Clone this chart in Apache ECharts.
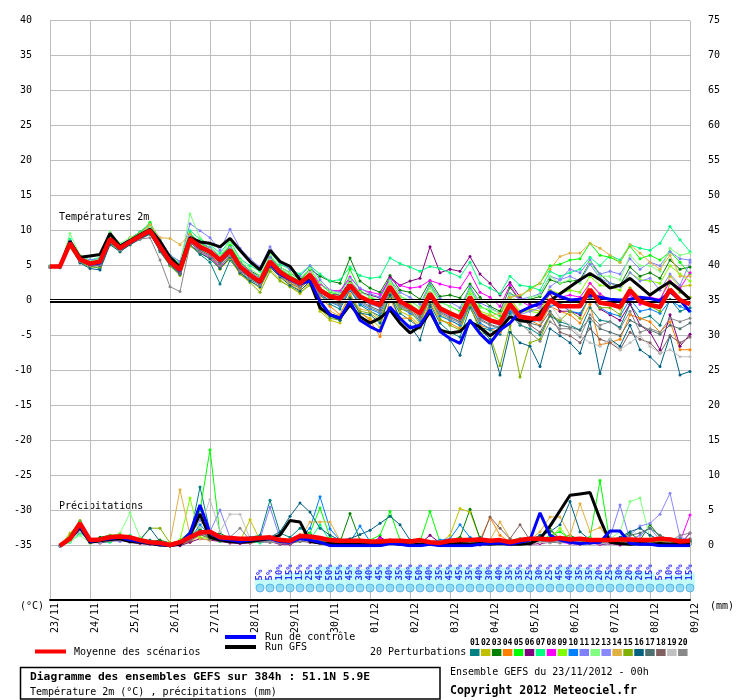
<!DOCTYPE html>
<html>
<head>
<meta charset="utf-8">
<script src="https://cdn.jsdelivr.net/npm/echarts/dist/echarts.min.js"></script>
<style>
  html, body { margin: 0; padding: 0; background: #fff; }
  #main { width: 740px; height: 700px; }
</style>
</head>
<body>
<div id="main"></div>
<script>
// jours de l'échéance (pas de 6h)
var days = ['23/11', '24/11', '25/11', '26/11', '27/11', '28/11', '29/11', '30/11', '01/12',
  '02/12', '03/12', '04/12', '05/12', '06/12', '07/12', '08/12', '09/12'];
var hours = ['00h', '06h', '12h', '18h'];

// températures 2m : moyenne, contrôle, GFS
var tMean = [4.9, 4.9, 8.2, 5.9, 5.3, 5.6, 8.8, 7.5, 8.4, 9.2, 10.0, 7.7, 5.6, 4.4, 8.8, 7.7,
  7.0, 5.8, 7.2, 4.9, 3.7, 2.7, 5.6, 4.1, 3.2, 2.5, 3.7, 1.5, 0.6, 0.3, 2.2, 0.6,
  -0.1, -0.6, 2.0, -0.1, -0.9, -1.8, 1.0, -1.1, -1.8, -2.4, 0.5, -2.0, -2.8, -3.2, -0.5, -2.3,
  -2.5, -2.6, 0.1, -0.8, -0.8, -0.8, 1.6, -0.3, -0.5, -0.9, 1.5, -0.1, -0.6, -0.9, 1.6, 0.1, -0.5];
var tCtrl = [4.9, 4.9, 8.3, 5.9, 5.2, 5.4, 8.7, 7.4, 8.3, 9.1, 9.9, 7.6, 5.5, 4.3, 8.8, 7.6,
  7.0, 5.9, 7.3, 4.8, 3.6, 2.6, 5.3, 3.8, 3.0, 2.4, 2.8, -0.1, -2.0, -2.5, -0.1, -2.8,
  -3.7, -4.4, -0.9, -2.5, -3.9, -3.5, -1.3, -4.4, -5.4, -6.1, -2.8, -4.7, -6.1, -4.2, -3.2, -1.6,
  -0.9, -0.4, 1.3, 0.6, 0.1, 0.2, 0.8, 0.5, 0.2, 0.1, 0.2, 0.5, 0.3, 0.0, 1.3, 0.1, -1.6];
var tGfs = [4.9, 4.9, 8.5, 6.2, 6.4, 6.6, 9.6, 7.8, 8.6, 9.4, 10.2, 8.5, 6.2, 4.8, 9.0, 8.4,
  8.2, 7.7, 8.9, 7.2, 5.6, 4.4, 7.2, 5.6, 4.9, 3.0, 2.8, -1.0, -2.0, -2.5, -0.6, -2.3,
  -3.2, -2.5, -1.3, -3.2, -4.6, -3.7, -1.6, -4.2, -4.6, -4.4, -3.0, -3.8, -5.0, -4.0, -2.3, -2.8,
  -3.0, -1.8, 0.0, 1.0, 2.0, 3.0, 3.9, 3.0, 1.8, 2.2, 3.2, 2.0, 0.8, 1.8, 2.7, 1.5, 0.2];

// températures 2m : 20 perturbations
var t01 = [4.8, 4.9, 7.9, 5.5, 5.0, 4.6, 8.3, 7.2, 8.1, 8.9, 9.7, 7.0, 5.0, 3.8, 8.0, 6.6,
  5.5, 2.4, 5.8, 4.0, 3.0, 2.3, 5.0, 3.6, 2.5, 1.8, 3.0, 0.8, -0.5, -1.2, 1.5, -0.6,
  -1.5, -2.2, 0.8, -1.8, -2.8, -3.9, -0.5, -3.2, -4.5, -5.2, -1.0, -3.8, -4.2, -4.8, -1.8, -3.5,
  -4.0, -4.9, -2.2, -3.0, -3.5, -4.2, -1.0, -2.8, -3.0, -3.8, -0.5, -2.6, -2.2, -3.5, 0.2, -1.5, -1.0];
var t02 = [4.9, 5.0, 8.0, 5.8, 5.5, 5.9, 9.0, 7.4, 8.6, 9.5, 10.4, 8.0, 6.0, 4.8, 9.1, 7.3,
  6.5, 4.5, 6.0, 3.8, 2.8, 1.8, 4.5, 3.0, 2.0, 1.0, 2.5, -1.5, -2.8, -3.2, 0.5, -1.8,
  -2.5, -3.8, 1.2, -1.5, -2.2, -3.5, 0.6, -2.0, -2.8, -3.6, -0.2, -2.5, -2.0, -2.8, 0.5, -1.8,
  -1.2, -1.5, 1.0, -0.5, 0.2, -0.5, 2.5, 0.8, 0.0, -1.2, 1.8, 0.5, 0.5, 0.0, 3.5, 2.0, 2.2];
var t03 = [4.9, 5.1, 8.6, 6.2, 5.6, 6.0, 9.3, 7.8, 8.9, 9.8, 11.0, 8.3, 6.4, 5.2, 9.5, 8.3,
  7.3, 6.2, 7.8, 5.5, 4.3, 3.5, 6.2, 4.8, 4.0, 3.0, 4.5, 3.5, 2.8, 2.5, 6.1, 2.8,
  1.8, 1.2, 3.6, 1.5, 1.2, 0.2, 2.8, 0.6, 0.8, 0.4, 2.4, 0.5, -0.8, -1.5, 1.9, 0.0,
  0.2, 0.6, 3.0, 2.5, 2.8, 3.0, 5.5, 3.8, 2.5, 2.2, 4.8, 3.5, 4.0, 3.2, 5.8, 4.5, 4.8];
var t04 = [4.8, 4.8, 8.4, 6.0, 5.2, 5.3, 8.9, 7.6, 9.0, 9.6, 10.8, 8.4, 5.8, 4.5, 9.0, 7.8,
  7.2, 6.0, 7.4, 5.0, 3.5, 2.2, 5.2, 3.6, 2.6, 1.8, 3.0, 0.4, -0.8, -2.0, 1.0, -1.6,
  -2.8, -5.1, 0.2, -2.5, -2.5, -3.8, -0.2, -2.8, -3.2, -4.0, -0.5, -3.5, -4.0, -4.5, -1.2, -2.8,
  -2.8, -3.5, -0.8, -1.5, -2.0, -3.2, -0.5, -6.3, -6.0, -5.5, -2.0, -2.5, -3.0, -4.5, -3.0, -7.0, -7.0];
var t05 = [4.9, 5.0, 8.3, 6.1, 5.5, 5.8, 9.1, 7.8, 8.7, 9.6, 11.2, 8.4, 6.2, 5.0, 9.6, 8.2,
  7.5, 6.3, 7.9, 5.6, 4.2, 3.2, 6.4, 4.6, 3.6, 2.8, 4.6, 2.4, 1.2, 0.8, 4.5, 1.5,
  0.5, -0.2, 3.0, 0.6, 0.0, -1.0, 2.2, -0.2, -0.8, -1.5, 1.8, -0.8, -1.5, -2.2, 1.0, 0.5,
  1.8, 2.5, 5.0, 5.2, 5.8, 6.0, 8.2, 6.5, 6.2, 5.5, 7.8, 6.0, 6.5, 5.8, 7.0, 5.5, 3.8];
var t06 = [4.9, 4.8, 8.1, 5.8, 5.2, 5.4, 8.6, 7.4, 8.3, 9.0, 9.9, 7.5, 5.4, 4.0, 8.5, 7.4,
  6.8, 5.4, 6.8, 4.6, 3.5, 2.5, 5.4, 3.9, 3.0, 2.2, 3.6, 1.8, 0.9, 0.8, 2.8, 1.2,
  0.8, 0.4, 3.4, 2.2, 2.8, 3.2, 7.7, 4.0, 4.5, 4.2, 6.3, 3.8, 2.5, 0.8, 2.6, 0.5,
  -0.5, -1.0, 1.0, -1.5, -1.5, -2.0, 0.5, -1.2, -2.0, -2.8, -0.5, -3.5, -4.5, -7.0, -2.0, -6.5, -4.8];
var t07 = [5.0, 5.1, 8.8, 6.4, 5.8, 6.2, 9.6, 8.0, 8.8, 9.8, 11.0, 8.6, 6.5, 5.5, 10.0, 8.8,
  8.0, 6.8, 8.6, 6.0, 5.0, 4.2, 7.0, 5.2, 4.5, 3.8, 5.0, 3.8, 2.8, 3.0, 4.8, 3.6,
  3.2, 3.4, 6.1, 5.3, 4.8, 4.2, 4.9, 4.6, 4.0, 3.4, 5.5, 2.5, 1.8, 1.0, 3.5, 2.2,
  2.0, 1.5, 4.2, 3.5, 4.0, 4.5, 6.2, 5.0, 6.5, 5.8, 8.0, 7.5, 7.2, 8.2, 10.6, 8.7, 7.0];
var t08 = [4.8, 4.9, 8.0, 5.6, 5.0, 5.0, 8.5, 7.3, 8.2, 9.0, 9.8, 7.4, 5.3, 3.8, 8.4, 7.0,
  6.2, 4.8, 6.5, 4.2, 3.4, 2.5, 5.4, 3.8, 3.2, 2.6, 4.0, 2.4, 1.5, 1.4, 3.4, 1.7,
  1.2, 0.9, 3.1, 2.2, 1.8, 2.0, 2.9, 2.4, 2.0, 1.8, 4.0, 1.2, 0.5, -0.8, 2.2, 0.0,
  -0.8, -0.5, 1.5, 0.5, 0.8, 0.5, 2.5, 1.0, 0.0, -0.8, 0.8, -0.5, 0.5, 0.2, 2.8, 1.8, 4.0];
var t09 = [4.9, 5.0, 8.4, 6.0, 5.4, 5.7, 8.9, 7.6, 8.5, 9.3, 10.2, 7.8, 5.8, 4.6, 9.0, 7.9,
  7.2, 5.9, 7.4, 5.1, 3.9, 2.9, 5.8, 4.2, 3.4, 2.6, 3.9, 1.8, 0.9, 0.5, 2.5, 0.8,
  0.2, -0.4, 2.3, 0.2, -0.5, -1.5, 1.2, -0.8, -1.5, -2.2, 1.0, -1.5, -2.0, -2.8, 0.2, -1.5,
  -1.5, -1.8, 1.5, 1.0, 1.5, 1.2, 3.5, 2.2, 2.0, 1.5, 4.0, 3.0, 2.8, 2.5, 5.0, 3.8, 2.8];
var t10 = [4.8, 4.8, 8.0, 5.8, 5.1, 5.3, 8.6, 7.2, 8.3, 9.0, 9.8, 7.6, 5.4, 4.2, 8.6, 7.5,
  6.8, 5.5, 6.9, 4.7, 3.4, 2.4, 5.3, 3.8, 2.8, 2.0, 3.2, 1.0, -0.2, -0.8, 1.5, -0.4,
  -1.2, -1.8, 1.2, -1.0, -1.8, -2.8, 0.2, -2.2, -2.8, -3.5, -0.5, -3.2, -4.0, -3.8, -1.5, -3.0,
  -3.0, -2.8, -0.8, -0.5, -1.5, -1.8, 0.5, -1.0, -1.8, -2.2, 0.2, -1.5, -1.2, -1.8, 0.0, -0.8, -1.5];
var t11 = [5.0, 5.0, 8.5, 6.2, 5.8, 6.0, 9.4, 8.0, 8.8, 9.5, 10.5, 8.8, 6.5, 5.6, 11.0, 10.0,
  9.0, 7.2, 10.2, 7.5, 6.0, 4.8, 7.7, 5.5, 4.5, 3.5, 5.0, 3.0, 1.5, 1.2, 3.2, 1.8,
  1.0, 0.5, 3.0, 1.2, 0.5, -0.5, 2.4, 0.3, -0.2, -1.0, 2.0, -0.3, -1.0, -1.8, 1.0, 0.2,
  0.5, 1.0, 3.5, 3.0, 4.5, 4.0, 5.8, 3.8, 4.2, 3.8, 6.0, 4.5, 5.5, 5.0, 7.0, 6.0, 5.8];
var t12 = [5.0, 5.0, 9.6, 6.5, 5.6, 6.0, 9.8, 8.2, 9.0, 9.4, 10.6, 8.5, 6.2, 5.2, 12.4, 9.0,
  7.8, 6.4, 8.4, 5.8, 4.6, 3.6, 6.6, 4.8, 4.0, 3.2, 4.6, 2.6, 1.4, 1.0, 3.0, 1.2,
  0.6, 0.0, 2.8, 0.6, 0.0, -1.0, 1.8, -0.2, -0.8, -1.6, 1.4, -1.0, -1.2, -1.8, 0.8, -0.5,
  0.5, 0.8, 3.5, 2.5, 3.0, 2.5, 5.5, 3.5, 3.5, 3.0, 6.5, 5.0, 5.0, 4.2, 7.5, 6.5, 6.8];
var t13 = [4.8, 4.9, 8.1, 5.9, 5.3, 5.5, 8.7, 7.4, 8.4, 9.1, 9.9, 7.8, 5.9, 4.8, 9.2, 8.4,
  7.6, 6.2, 7.6, 5.4, 4.2, 3.2, 6.2, 4.5, 3.2, 2.4, 3.5, 1.2, 0.4, 0.0, 2.0, 0.2,
  -0.5, -1.0, 1.5, -0.6, -1.2, -2.0, 0.8, -1.5, -2.2, -3.0, 0.0, -2.5, -3.0, -3.5, -0.8, -2.0,
  -1.5, -1.0, 2.0, 3.0, 3.5, 2.8, 5.2, 3.2, 2.5, 2.0, 4.0, 2.8, 3.2, 1.5, 3.8, 2.2, 5.5];
var t14 = [4.9, 4.9, 8.2, 5.9, 5.2, 5.8, 9.0, 7.3, 8.2, 9.6, 10.9, 9.0, 8.9, 8.0, 9.5, 7.5,
  6.5, 5.2, 6.6, 4.4, 3.2, 2.5, 5.0, 3.5, 2.4, 1.5, 2.5, -1.0, -1.5, -2.2, 0.8, -1.2,
  -1.5, -2.5, 1.0, -0.8, -1.2, -2.2, 0.8, -1.4, -2.0, -2.8, 0.6, -1.8, -2.2, -1.8, 0.5, 0.8,
  1.5, 2.5, 4.5, 6.3, 6.8, 6.8, 8.2, 7.5, 6.5, 5.5, 8.0, 6.8, 5.5, 4.5, 6.5, 3.5, 3.5];
var t15 = [4.9, 4.8, 7.6, 5.5, 4.8, 4.8, 8.2, 7.0, 8.0, 8.8, 9.6, 7.2, 5.0, 3.6, 7.8, 6.8,
  6.0, 4.6, 6.2, 3.8, 2.6, 1.2, 4.2, 2.8, 2.0, 1.2, 2.2, -1.2, -2.5, -2.8, 0.6, -1.5,
  -1.8, -2.8, 1.0, -1.2, -1.5, -3.2, 0.4, -2.6, -3.5, -4.2, -0.6, -4.5, -5.0, -9.3, -3.5, -10.9,
  -6.0, -5.5, -2.0, -2.8, -1.5, -2.5, 0.8, -1.0, -1.0, -2.0, 1.8, 0.0, -0.8, -1.5, 2.5, 1.2, 0.5];
var t16 = [4.8, 4.7, 7.8, 5.4, 4.6, 4.4, 8.0, 7.0, 8.0, 8.8, 9.5, 7.2, 5.2, 3.8, 8.0, 6.8,
  6.0, 4.6, 6.2, 4.0, 2.8, 2.0, 4.8, 3.4, 2.2, 1.4, 2.8, -0.8, -2.2, -2.8, 0.4, -1.8,
  -2.0, -3.2, 0.8, -2.6, -3.6, -5.6, -0.8, -4.0, -5.6, -7.8, -2.8, -4.0, -5.5, -10.6, -4.5, -6.0,
  -6.5, -9.4, -4.0, -5.0, -6.0, -7.5, -3.0, -10.4, -5.5, -6.5, -3.5, -7.0, -8.0, -9.4, -5.0, -10.6, -10.1];
var t17 = [4.9, 4.9, 8.0, 5.7, 5.1, 5.0, 8.6, 7.3, 8.3, 9.0, 9.7, 7.4, 5.2, 3.8, 8.3, 7.2,
  6.5, 5.2, 6.7, 4.4, 3.3, 2.3, 5.2, 3.7, 2.8, 2.0, 3.3, 1.0, 0.0, -0.5, 1.8, 0.0,
  -0.8, -1.4, 1.6, -0.6, -1.4, -2.4, 0.6, -1.6, -2.4, -3.0, 0.0, -2.6, -3.4, -3.8, -1.0, -3.0,
  -3.2, -3.6, -1.5, -3.5, -3.8, -4.2, -2.5, -4.0, -4.5, -5.0, -2.8, -3.5, -4.2, -4.8, -3.5, -4.0, -3.2];
var t18 = [4.8, 4.8, 8.1, 5.8, 5.2, 5.4, 8.7, 7.4, 8.4, 9.1, 9.8, 7.6, 5.5, 4.2, 8.6, 7.6,
  6.9, 5.6, 7.0, 4.8, 3.6, 2.6, 5.5, 4.0, 3.0, 2.3, 3.5, 1.2, 0.3, 0.0, 1.9, 0.3,
  -0.4, -0.9, 1.7, -0.3, -1.0, -2.0, 0.9, -1.3, -2.0, -2.6, 0.3, -2.2, -3.0, -3.4, -0.7, -2.5,
  -3.5, -4.5, -2.0, -4.5, -5.0, -6.0, -4.0, -5.5, -6.0, -7.0, -4.5, -5.5, -6.0, -7.5, -5.0, -6.0, -5.2];
var t19 = [4.9, 4.9, 8.2, 5.9, 5.3, 5.5, 8.7, 7.5, 8.5, 9.2, 10.0, 8.0, 6.0, 5.0, 9.0, 8.0,
  7.4, 6.2, 7.5, 5.2, 4.0, 3.0, 5.8, 4.3, 3.4, 2.6, 3.8, 1.6, 0.7, 0.4, 2.3, 0.7,
  0.0, -0.5, 2.1, 0.0, -0.8, -1.6, 1.1, -0.9, -1.6, -2.2, 0.6, -1.8, -2.6, -3.0, -0.3, -2.0,
  -2.5, -3.0, -0.5, -2.5, -3.5, -5.0, -6.0, -6.5, -5.5, -7.0, -6.0, -5.0, -6.5, -7.5, -7.0, -8.0, -8.0];
var t20 = [4.9, 5.0, 8.0, 5.6, 5.0, 5.2, 8.6, 7.2, 8.2, 8.8, 9.0, 5.8, 2.0, 1.3, 8.0, 7.0,
  6.4, 5.0, 6.4, 4.2, 3.2, 2.2, 5.0, 3.6, 2.8, 2.0, 3.2, 0.8, -0.2, -0.6, 1.6, -0.2,
  -1.0, -1.6, 1.4, -0.8, -1.6, -2.6, 0.4, -1.8, -2.6, -3.2, -0.2, -2.8, -3.5, -4.0, -1.2, -3.2,
  -4.5, -5.8, -3.0, -4.0, -4.0, -5.2, -2.0, -3.5, -3.0, -4.0, -1.5, -4.5, -4.0, -4.5, -2.5, -3.0, -2.5];

// précipitations (mm / 6h) : moyenne, contrôle, GFS
var rMean = [null, 0.0, 1.0, 3.2, 0.8, 0.9, 1.2, 1.3, 1.2, 0.8, 0.5, 0.4, 0.1, 0.5, 1.2, 1.9,
  2.0, 1.2, 1.1, 1.0, 1.0, 1.1, 1.2, 0.8, 0.7, 1.4, 1.3, 1.1, 0.8, 0.7, 0.7, 0.7,
  0.6, 0.6, 0.7, 0.7, 0.6, 0.8, 0.5, 0.4, 0.7, 0.8, 0.8, 0.9, 0.7, 0.8, 0.5, 0.8,
  1.0, 1.0, 0.9, 1.1, 0.9, 1.0, 0.8, 0.8, 0.8, 0.9, 0.9, 0.8, 0.8, 1.0, 0.9, 0.6, 0.7];
var rCtrl = [null, 0, 1.0, 2.8, 0.6, 0.8, 1.0, 1.2, 0.8, 0.6, 0.4, 0.2, 0, 0.4, 1.8, 5.8,
  1.8, 1.0, 0.8, 0.6, 0.8, 1.0, 1.0, 0.6, 0.5, 1.0, 0.8, 0.5, 0, 0, 0, 0,
  0, 0, 0.3, 0.2, 0, 0, 0.2, 0, 0, 0, 0, 0.2, 0.3, 0.4, 0.2, 0.5,
  0.8, 4.7, 1.5, 0.8, 0.5, 0.3, 0.4, 0.5, 2.1, 2.1, 0.3, 0.2, 0.2, 0, 0, 0, 0];
var rGfs = [null, 0, 1.0, 2.6, 0.5, 0.7, 0.9, 1.0, 0.6, 0.5, 0.3, 0.1, 0, 0.2, 1.5, 4.5,
  1.2, 0.8, 0.6, 0.5, 0.6, 0.8, 1.0, 1.5, 3.6, 3.4, 0.6, 0.4, 0.3, 0.2, 0.3, 0.2,
  0.2, 0.3, 0.4, 0.2, 0.1, 0.2, 0.3, 0.2, 0.2, 0.3, 0.2, 0.3, 0.2, 0.3, 0.2, 0.2,
  0.3, 1.0, 2.8, 5.0, 7.2, 7.4, 7.6, 3.8, 0.5, 0.3, 0.2, 0.3, 0.2, 0.3, 0.2, 0.3, 0.2];

// précipitations : 20 perturbations
var r01 = [null, 0, 1.2, 3.5, 0.6, 0.8, 1.0, 1.5, 1.0, 0.6, 0.8, 0.2, 0, 0.3, 1.2, 8.4,
  2.0, 0.8, 0.6, 0.8, 1.2, 1.5, 6.5, 1.8, 1.2, 2.5, 1.8, 0.5, 0.4, 0.2, 0.5, 0.6,
  0.2, 0.4, 0.8, 0.3, 0.2, 0.5, 0.3, 0.1, 0.4, 0.6, 0.8, 1.2, 0.5, 0.3, 0.2, 0.4,
  0.6, 1.5, 0.8, 0.6, 0.4, 0.3, 0.5, 0.2, 0.3, 0.6, 0.5, 0.2, 0.5, 0.8, 0.4, 0.3, 0.2];
var r02 = [null, 0, 1.8, 3.0, 0.4, 0.5, 0.8, 1.0, 1.2, 0.5, 0.3, 0.6, 0, 0.2, 0.5, 1.5,
  1.2, 1.0, 0.5, 0.6, 3.7, 0.8, 1.2, 0.6, 0.4, 1.0, 0.6, 0.5, 0.3, 0.2, 0.6, 0.4,
  0.2, 0.8, 0.6, 0.4, 0.5, 0.3, 0.2, 0.4, 1.5, 5.3, 4.8, 1.0, 0.5, 0.4, 0.3, 0.6,
  0.5, 0.8, 1.2, 0.6, 0.4, 0.5, 0.8, 0.3, 0.4, 0.5, 0.3, 0.6, 0.3, 0.2, 0.6, 0.5, 0.4];
var r03 = [null, 0, 0.8, 2.5, 0.5, 1.2, 1.5, 0.8, 0.9, 1.0, 0.6, 0.8, 0.4, 0.2, 1.0, 2.2,
  1.5, 1.8, 1.0, 0.5, 0.6, 0.8, 1.0, 0.5, 0.6, 1.4, 1.2, 0.8, 1.0, 0.5, 4.6, 0.8,
  0.4, 0.5, 0.6, 0.2, 0.3, 0.6, 0.4, 0.5, 0.8, 1.2, 5.2, 1.0, 0.6, 0.5, 0.8, 1.0,
  0.8, 1.2, 2.4, 1.0, 1.5, 0.8, 0.6, 0.4, 0.6, 1.0, 1.8, 0.8, 3.0, 1.2, 0.6, 0.5, 0.8];
var r04 = [null, 0, 1.0, 2.4, 0.8, 0.6, 1.0, 1.2, 1.4, 0.8, 0.5, 0.2, 0, 0.5, 1.2, 2.0,
  1.0, 0.8, 1.2, 0.6, 0.5, 0.6, 0.8, 0.4, 0.5, 1.6, 1.0, 0.6, 0.5, 0.4, 0.6, 0.3,
  0.3, 0.2, 0.5, 0.4, 0.6, 0.3, 0.2, 0.5, 0.6, 0.4, 0.5, 0.8, 4.0, 1.5, 0.5, 0.8,
  0.5, 0.8, 1.0, 0.6, 0.8, 0.6, 0.4, 0.5, 0.5, 0.3, 0.6, 0.4, 0.2, 0.5, 0.8, 0.6, 0.5];
var r05 = [null, 0, 1.2, 2.8, 0.6, 0.9, 1.1, 1.0, 0.8, 0.6, 0.5, 0.3, 0, 0.8, 2.0, 5.0,
  13.7, 1.5, 1.0, 0.8, 0.8, 1.0, 0.6, 0.5, 0.4, 1.0, 1.8, 5.4, 1.2, 0.5, 0.4, 0.6,
  0.8, 1.5, 4.9, 0.8, 0.4, 0.6, 4.9, 0.5, 0.3, 0.5, 0.8, 0.6, 0.4, 0.6, 0.3, 0.5,
  0.8, 0.6, 1.5, 2.0, 1.0, 0.8, 1.2, 9.3, 0.5, 1.0, 0.8, 0.6, 0.4, 0.6, 0.8, 0.5, 0.4];
var r06 = [null, 0, 0.8, 2.0, 0.5, 0.4, 0.6, 0.8, 0.5, 0.3, 0.2, 0.1, 0, 0, 0.5, 1.0,
  0.8, 0.6, 0.4, 0.3, 0.4, 0.5, 0.6, 0.2, 0.2, 0.8, 0.5, 0.3, 0.2, 0.1, 0.3, 0.2,
  0.2, 1.2, 0.5, 0.2, 0.1, 0.3, 1.5, 0.4, 0.2, 0.1, 0.2, 0.1, 0.5, 0.3, 0.8, 0.5,
  0.2, 0.3, 0.5, 0.8, 0.3, 0.2, 0.4, 0.2, 0.3, 0.1, 0.2, 0.3, 0.6, 0.8, 0.4, 0.2, 1.8];
var r07 = [null, 0, 0.5, 1.8, 0.8, 0.6, 0.5, 1.2, 1.5, 0.8, 0.4, 0.2, 0, 0.3, 1.5, 2.5,
  1.2, 0.6, 0.8, 0.5, 0.6, 0.4, 0.8, 0.6, 0.5, 0.6, 0.8, 3.0, 0.6, 0.4, 0.3, 0.5,
  0.6, 0.8, 0.5, 0.4, 0.3, 0.5, 0.4, 0.6, 0.5, 0.8, 0.6, 0.3, 0.5, 0.4, 0.6, 1.0,
  1.2, 0.8, 0.5, 0.6, 0.4, 0.6, 0.5, 0.8, 0.6, 0.4, 0.5, 0.3, 0.5, 0.6, 0.3, 0.4, 0.5];
var r08 = [null, 0, 1.0, 2.6, 0.6, 0.8, 1.0, 0.8, 0.6, 0.4, 0.3, 0.2, 0, 0.2, 0.8, 1.6,
  1.5, 0.8, 0.6, 0.4, 0.5, 0.8, 0.6, 0.3, 0.4, 0.8, 0.5, 0.4, 0.3, 0.5, 0.4, 0.2,
  0.4, 1.0, 0.6, 0.3, 0.5, 0.2, 0.6, 0.3, 0.2, 0.4, 0.3, 0.5, 0.3, 0.5, 0.2, 0.4,
  0.6, 0.4, 0.8, 0.5, 0.3, 0.5, 0.4, 0.2, 0.4, 0.3, 0.6, 0.5, 0.8, 0.5, 1.0, 0.6, 4.4];
var r09 = [null, 0, 1.5, 3.0, 0.5, 0.8, 1.4, 1.0, 0.8, 0.5, 0.6, 0.4, 0.2, 0.8, 6.8, 1.2,
  1.0, 1.2, 0.6, 0.5, 0.6, 0.8, 0.5, 0.4, 0.6, 1.2, 0.8, 0.5, 0.4, 0.3, 0.6, 0.4,
  0.3, 0.5, 0.8, 0.4, 0.2, 0.6, 0.4, 0.3, 0.5, 0.6, 0.4, 0.5, 0.6, 0.3, 0.5, 0.4,
  0.5, 0.8, 1.0, 2.5, 0.8, 0.5, 0.6, 0.4, 0.5, 0.8, 0.6, 0.4, 0.5, 0.4, 0.6, 0.3, 0.4];
var r10 = [null, 0, 1.0, 2.2, 0.7, 0.5, 0.9, 1.1, 0.8, 0.7, 0.4, 0.3, 0, 0.4, 1.0, 3.0,
  1.5, 1.0, 0.8, 0.6, 0.7, 0.9, 0.6, 0.8, 0.5, 1.2, 2.5, 7.0, 2.4, 0.8, 0.5, 2.8,
  0.6, 0.5, 0.8, 0.4, 0.3, 0.6, 0.5, 0.8, 1.0, 3.0, 1.2, 0.6, 0.4, 0.5, 0.3, 0.6,
  0.8, 1.0, 0.8, 1.2, 0.6, 0.5, 0.4, 0.3, 0.5, 0.6, 0.4, 0.8, 0.6, 0.5, 0.6, 0.4, 0.3];
var r11 = [null, 0, 0.8, 2.0, 0.5, 0.6, 0.8, 0.6, 0.8, 0.5, 0.6, 0.4, 0, 0.6, 1.5, 3.6,
  2.0, 5.1, 1.2, 0.8, 0.6, 1.0, 5.5, 1.0, 0.5, 0.8, 1.0, 0.6, 0.5, 0.4, 0.6, 0.3,
  0.6, 0.4, 0.5, 0.3, 0.4, 0.3, 0.6, 0.4, 0.5, 0.4, 0.3, 0.6, 0.8, 0.5, 0.4, 0.6,
  0.6, 1.0, 0.6, 0.8, 0.5, 0.6, 0.4, 0.8, 1.2, 5.8, 0.8, 1.5, 2.5, 0.8, 0.6, 0.4, 0.6];
var r12 = [null, 0, 0.6, 1.5, 0.4, 0.8, 1.2, 1.8, 4.7, 1.2, 0.6, 0.4, 0, 0.4, 1.2, 2.0,
  1.0, 0.8, 0.6, 0.5, 0.5, 0.6, 0.8, 0.4, 0.4, 0.8, 0.6, 0.5, 0.4, 0.2, 0.5, 0.3,
  0.2, 0.3, 0.5, 0.4, 0.3, 0.2, 0.4, 0.2, 0.3, 0.5, 0.4, 0.3, 0.4, 0.2, 0.3, 0.5,
  0.6, 0.5, 0.8, 1.0, 0.6, 0.8, 1.0, 0.5, 1.0, 2.0, 6.3, 6.8, 1.0, 0.8, 0.6, 0.5, 0.5];
var r13 = [null, 0, 1.2, 2.8, 0.6, 0.7, 0.9, 1.0, 0.6, 0.5, 0.4, 0.3, 0, 0.3, 0.8, 1.8,
  2.2, 1.5, 1.0, 0.8, 0.8, 0.6, 0.5, 0.6, 0.5, 0.8, 0.7, 0.5, 0.4, 0.3, 0.2, 0.4,
  0.3, 0.4, 0.6, 0.3, 0.2, 0.5, 0.3, 0.4, 0.4, 0.3, 0.6, 0.4, 0.3, 0.4, 0.5, 0.3,
  0.5, 0.7, 0.5, 0.6, 0.4, 0.5, 0.6, 0.8, 1.0, 0.8, 1.5, 2.8, 3.2, 4.5, 7.5, 1.2, 0.8];
var r14 = [null, 0, 1.4, 3.2, 0.9, 0.7, 1.2, 1.4, 1.0, 0.8, 0.6, 0.2, 0.5, 8.0, 1.5, 1.0,
  0.8, 1.2, 0.8, 0.6, 0.5, 0.8, 0.6, 1.0, 0.6, 1.0, 3.4, 3.4, 3.4, 0.8, 0.5, 0.6,
  0.4, 0.6, 0.8, 0.5, 0.8, 0.6, 0.4, 0.5, 0.6, 0.8, 0.5, 0.4, 0.8, 3.4, 1.0, 0.5,
  0.8, 2.0, 4.1, 4.1, 1.5, 6.0, 2.0, 2.6, 0.8, 0.6, 0.5, 0.8, 0.5, 0.6, 0.4, 0.5, 0.3];
var r15 = [null, 0, 1.6, 3.6, 0.7, 0.8, 1.5, 1.6, 1.2, 0.9, 2.5, 2.5, 0.4, 0.6, 1.4, 2.4,
  1.4, 1.0, 0.8, 0.6, 0.8, 1.2, 0.9, 0.8, 0.8, 1.5, 1.2, 0.6, 0.5, 0.4, 0.6, 0.5,
  0.6, 0.5, 0.5, 0.8, 0.4, 0.8, 0.5, 0.6, 0.8, 1.0, 0.6, 0.4, 0.5, 0.6, 0.8, 0.5,
  0.8, 1.2, 2.2, 1.0, 0.8, 0.6, 0.5, 0.4, 0.6, 0.8, 0.5, 0.7, 0.4, 0.6, 0.5, 0.8, 0.5];
var r16 = [null, 0, 1.1, 3.0, 0.6, 0.7, 1.0, 1.1, 0.9, 0.8, 2.5, 0.6, 0, 0.4, 1.0, 2.2,
  1.0, 0.8, 0.6, 0.5, 0.8, 1.0, 1.2, 2.0, 4.2, 6.1, 4.8, 2.5, 1.5, 0.8, 1.0, 1.6,
  2.2, 3.2, 4.2, 3.0, 0.8, 0.6, 0.5, 0.4, 0.5, 0.8, 0.6, 0.8, 0.6, 0.5, 0.4, 0.6,
  0.8, 1.5, 2.0, 3.0, 6.3, 2.0, 0.8, 0.6, 0.8, 1.2, 2.0, 2.5, 1.5, 0.8, 0.6, 0.5, 0.6];
var r17 = [null, 0, 1.0, 2.5, 0.6, 0.6, 0.8, 1.0, 0.7, 0.5, 0.4, 0.3, 0, 0.3, 0.9, 2.0,
  1.2, 0.8, 0.6, 0.5, 0.6, 0.8, 0.6, 0.5, 0.4, 0.7, 0.6, 0.5, 0.3, 0.4, 0.3, 0.4,
  0.3, 0.5, 0.4, 0.3, 0.4, 0.3, 0.5, 0.4, 0.3, 0.5, 0.4, 0.6, 0.5, 0.4, 0.6, 0.5,
  0.4, 0.6, 0.8, 0.6, 0.5, 0.4, 0.6, 0.5, 0.8, 1.0, 1.5, 1.8, 2.5, 1.5, 0.8, 1.0, 0.8];
var r18 = [null, 0, 0.9, 2.3, 0.5, 0.6, 0.7, 0.9, 0.6, 0.4, 0.3, 0.2, 0, 0.2, 0.7, 1.6,
  1.0, 0.7, 0.5, 0.6, 0.5, 0.7, 0.5, 0.4, 0.4, 0.6, 0.5, 0.4, 0.3, 0.2, 0.4, 0.3,
  0.4, 0.3, 0.5, 0.3, 0.2, 0.4, 0.3, 0.5, 0.4, 0.3, 0.5, 0.4, 4.1, 2.5, 1.0, 3.0,
  0.8, 0.6, 0.5, 0.8, 0.4, 0.5, 0.3, 0.6, 0.5, 0.4, 0.6, 0.5, 0.4, 0.3, 0.5, 0.6, 1.0];
var r19 = [null, 0, 0.8, 2.0, 0.6, 0.5, 0.8, 0.9, 0.5, 0.6, 0.4, 0.2, 0, 0.5, 1.2, 2.6,
  6.6, 2.0, 4.5, 4.5, 1.0, 0.8, 0.6, 0.5, 0.5, 0.8, 0.6, 0.4, 0.3, 0.4, 0.3, 0.2,
  0.3, 0.2, 0.4, 0.3, 0.2, 0.4, 0.3, 0.2, 0.3, 0.2, 0.4, 0.3, 0.4, 0.3, 0.2, 0.4,
  0.3, 0.5, 0.4, 0.6, 0.8, 0.5, 0.4, 0.3, 0.4, 0.3, 0.5, 0.4, 0.3, 0.4, 0.6, 0.5, 0.3];
var r20 = [null, 0, 1.0, 2.4, 0.5, 0.7, 0.9, 0.8, 0.6, 0.5, 0.3, 0.2, 0, 0.3, 1.0, 4.5,
  1.5, 1.0, 1.2, 2.5, 0.8, 0.6, 0.5, 0.4, 0.5, 1.0, 0.8, 0.6, 0.4, 0.3, 0.4, 0.3,
  0.3, 0.4, 0.6, 0.8, 0.5, 0.4, 0.3, 0.4, 0.5, 0.3, 0.4, 0.6, 0.8, 0.5, 0.4, 0.3,
  0.6, 0.8, 0.5, 0.4, 0.5, 0.4, 0.6, 0.4, 0.5, 0.8, 0.6, 1.0, 0.8, 1.2, 0.6, 1.5, 1.8];

// probabilité de neige (%) par échéance
var snowPct = [null, null, null, null, null, null, null, null, null, null, null, null, null, null, null, null,
  null, null, null, null, null, 5, 5, 10, 15, 15, 25, 45, 50, 55, 45, 30,
  40, 45, 40, 35, 40, 50, 40, 35, 45, 45, 35, 40, 30, 40, 35, 35,
  25, 30, 25, 45, 40, 35, 35, 20, 25, 30, 20, 20, 15, 5, 10, 10, 15];

var tempMembers = [t01, t02, t03, t04, t05, t06, t07, t08, t09, t10, t11, t12, t13, t14, t15, t16, t17, t18, t19, t20];
var rainMembers = [r01, r02, r03, r04, r05, r06, r07, r08, r09, r10, r11, r12, r13, r14, r15, r16, r17, r18, r19, r20];
var memberColors = ['#008080', '#c0c000', '#008000', '#ff8000', '#00ff00', '#800080', '#00ff80', '#ff00ff', '#80ff00', '#0080ff',
  '#8080ff', '#80ff80', '#8888ff', '#e0b040', '#80b000', '#006080', '#507070', '#806060', '#c0c0c0', '#888888'];

var cats = [];
days.forEach(function (d) {
  hours.forEach(function (h) { cats.push(d + ' ' + h); });
});
cats = cats.slice(0, 65);

var font = 'DejaVu Sans Mono';
var gridColor = '#bdbdbd';

function serie(name, data, color, width, yIdx, z, sym) {
  return {
    name: name, type: 'line', xAxisIndex: 0, yAxisIndex: yIdx, data: data, z: z,
    symbol: sym ? 'circle' : 'none', symbolSize: 3, showAllSymbol: true,
    itemStyle: { color: color }, lineStyle: { color: color, width: width },
    silent: true
  };
}

var series = [];
// ligne du zéro (double trait)
series.push({
  type: 'line', xAxisIndex: 0, yAxisIndex: 0, data: [], z: 1, silent: true,
  markLine: {
    silent: true, symbol: 'none', label: { show: false }, animation: false,
    data: [
      { yAxis: 0, lineStyle: { color: '#000', width: 4, type: 'solid' } },
      { yAxis: 0, lineStyle: { color: '#fff', width: 1.2, type: 'solid' } }
    ]
  }
});
tempMembers.forEach(function (d, i) {
  series.push(serie('T' + (i + 1), d, memberColors[i], 1, 0, 3, true));
});
rainMembers.forEach(function (d, i) {
  series.push(serie('P' + (i + 1), d, memberColors[i], 1, 1, 3, true));
});
series.push(serie('GFS', tGfs, '#000', 3, 0, 4, false));
series.push(serie('GFS pr', rGfs, '#000', 3, 1, 4, false));
series.push(serie('Contrôle', tCtrl, '#0000ff', 3, 0, 5, false));
series.push(serie('Contrôle pr', rCtrl, '#0000ff', 3, 1, 5, false));
series.push(serie('Moyenne', tMean, '#ff0000', 4.5, 0, 6, false));
series.push(serie('Moyenne pr', rMean, '#ff0000', 4.5, 1, 6, false));

// bande de neige (hauteur suivant la probabilité)
series.push({
  type: 'bar', xAxisIndex: 2, yAxisIndex: 3, data: snowPct, z: 1, silent: true,
  barWidth: '100%', barCategoryGap: '0%',
  itemStyle: { color: '#c4fcff' }
});
series.push({
  type: 'scatter', xAxisIndex: 3, yAxisIndex: 4, z: 2, silent: true,
  symbol: 'circle', symbolSize: 8,
  itemStyle: { color: '#7ed3f3', borderColor: '#4aa8e0', borderWidth: 1 },
  data: snowPct.map(function (p, i) { return [cats[i], 'neige', p]; })
    .filter(function (d) { return d[2] !== null; }),
  label: {
    show: true, position: 'top', distance: 3, rotate: 90, align: 'left', verticalAlign: 'middle',
    color: '#0000ff', fontSize: 9, fontWeight: 'bold', fontFamily: font,
    formatter: function (p) { return p.value[2] + '%'; }
  }
});

function xAx(gridIndex, extra) {
  var a = {
    type: 'category', gridIndex: gridIndex, data: cats, boundaryGap: false,
    axisLine: { show: false }, axisTick: { show: false }, axisLabel: { show: false },
    splitLine: { show: false }
  };
  for (var k in extra) a[k] = extra[k];
  return a;
}

// légende et textes
var graphics = [
  { type: 'text', style: { x: 59, y: 217, text: 'Températures 2m', font: '10px "' + font + '"', fill: '#000', verticalAlign: 'middle' } },
  { type: 'text', style: { x: 59, y: 506, text: 'Précipitations', font: '10px "' + font + '"', fill: '#000', verticalAlign: 'middle' } },
  { type: 'text', style: { x: 20, y: 606, text: '(°C)', font: '10px "' + font + '"', fill: '#000', verticalAlign: 'middle' } },
  { type: 'text', style: { x: 710, y: 606, text: '(mm)', font: '10px "' + font + '"', fill: '#000', verticalAlign: 'middle' } },
  { type: 'line', shape: { x1: 225, y1: 637, x2: 256, y2: 637 }, style: { stroke: '#0000ff', lineWidth: 4 } },
  { type: 'text', style: { x: 265, y: 637, text: 'Run de contrôle', font: '10px "' + font + '"', fill: '#000', verticalAlign: 'middle' } },
  { type: 'line', shape: { x1: 225, y1: 647, x2: 256, y2: 647 }, style: { stroke: '#000', lineWidth: 4 } },
  { type: 'text', style: { x: 265, y: 647, text: 'Run GFS', font: '10px "' + font + '"', fill: '#000', verticalAlign: 'middle' } },
  { type: 'line', shape: { x1: 35, y1: 651.5, x2: 66, y2: 651.5 }, style: { stroke: '#ff0000', lineWidth: 4 } },
  { type: 'text', style: { x: 74, y: 652, text: 'Moyenne des scénarios', font: '10px "' + font + '"', fill: '#000', verticalAlign: 'middle' } },
  { type: 'text', style: { x: 370, y: 652, text: '20 Perturbations', font: '10px "' + font + '"', fill: '#000', verticalAlign: 'middle' } },
  { type: 'rect', shape: { x: 20.5, y: 667.5, width: 419.5, height: 31.5 }, style: { fill: 'none', stroke: '#000', lineWidth: 1.5 } },
  { type: 'text', style: { x: 30, y: 677, text: 'Diagramme des ensembles GEFS sur 384h : 51.1N 5.9E', font: 'bold 11.3px "' + font + '"', fill: '#000', verticalAlign: 'middle' } },
  { type: 'text', style: { x: 30, y: 692, text: 'Température 2m (°C) , précipitations (mm)', font: '10px "' + font + '"', fill: '#000', verticalAlign: 'middle' } },
  { type: 'text', style: { x: 450, y: 672, text: 'Ensemble GEFS du 23/11/2012 - 00h', font: '10px "' + font + '"', fill: '#000', verticalAlign: 'middle' } },
  { type: 'text', style: { x: 450, y: 691, text: 'Copyright 2012 Meteociel.fr', font: 'bold 11.5px "' + font + '"', fill: '#000', verticalAlign: 'middle' } }
];
memberColors.forEach(function (c, i) {
  var x0 = 470 + i * 10.95;
  graphics.push({ type: 'rect', shape: { x: x0, y: 649, width: 9.5, height: 7 }, style: { fill: c } });
  graphics.push({ type: 'text', style: { x: x0 + 4.75, y: 643, text: (i < 9 ? '0' : '') + (i + 1), font: 'bold 8px "' + font + '"', fill: '#000', align: 'center', verticalAlign: 'middle' } });
});

var option = {
  animation: false,
  backgroundColor: '#fff',
  textStyle: { fontFamily: font },
  grid: [
    { left: 50, right: 50, top: 20.7, height: 525 },
    { left: 50, right: 50, top: 545.7, height: 54.3 },
    // bande : la base de l'axe (0 %) est placée sous les flocons
    { left: 45, right: 45, top: 545.7, height: 47.3 },
    { left: 50, right: 50, top: 583, height: 10 }
  ],
  xAxis: [
    xAx(0, { splitLine: { show: true, interval: 3, lineStyle: { color: gridColor, width: 1 } } }),
    xAx(1, {
      axisLine: { show: true, lineStyle: { color: '#000', width: 2 } },
      splitLine: { show: true, interval: 3, lineStyle: { color: gridColor, width: 1 } },
      axisLabel: {
        show: true, interval: 3, rotate: 90, margin: 3, verticalAlign: 'top',
        color: '#000', fontSize: 10, fontFamily: font,
        formatter: function (v) { return v.slice(0, 5); }
      }
    }),
    xAx(2, { show: false, boundaryGap: true }),
    xAx(3, { show: false })
  ],
  yAxis: [
    {
      type: 'value', gridIndex: 0, position: 'left', min: -35, max: 40, interval: 5,
      axisLine: { show: false }, axisTick: { show: false },
      axisLabel: { color: '#000', fontSize: 10, margin: 18, fontFamily: font },
      splitLine: { show: true, lineStyle: { color: gridColor, width: 1 } }
    },
    {
      type: 'value', gridIndex: 0, position: 'right', min: 0, max: 75, interval: 5,
      axisLine: { show: false }, axisTick: { show: false },
      axisLabel: { color: '#000', fontSize: 10, margin: 18, fontFamily: font },
      splitLine: { show: false }
    },
    { type: 'value', gridIndex: 1, min: 0, max: 1, show: false, splitLine: { show: false } },
    { type: 'log', logBase: 10, gridIndex: 2, min: 0.4, max: 2000, show: false, splitLine: { show: false } },
    { type: 'category', gridIndex: 3, data: ['neige'], show: false }
  ],
  graphic: graphics,
  series: series
};

var chart = echarts.init(document.getElementById('main'), null, { renderer: 'canvas' });
chart.setOption(option);
</script>
</body>
</html>
